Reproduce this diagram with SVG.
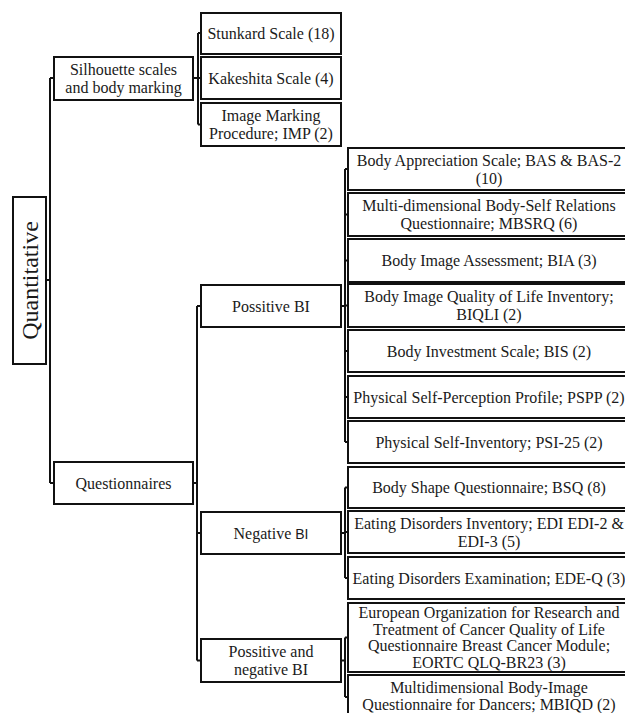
<svg xmlns="http://www.w3.org/2000/svg" width="625" height="713" viewBox="0 0 625 713">
<style>
.box{fill:#fff;stroke:#111;stroke-width:2}
.t{font-family:"Liberation Serif","Times New Roman",serif;font-size:16px;fill:#1a1a1a;text-anchor:middle}
.big{font-size:24px}
.c{fill:none;stroke:#111;stroke-width:2}
.sans{font-family:"Liberation Sans",Arial,sans-serif;font-size:14px}
</style>
<rect width="625" height="713" fill="#fff"/>
<g id="connectors">
<path class="c" d="M46,280H50M50,78V483M50,78H54M50,483H54"/>
<path class="c" d="M193,78H198M198,33V124.5M198,33H201M198,78H201M198,124.5H201"/>
<path class="c" d="M193,483H197M197,306V660.5M197,306H201M197,533H201M197,660.5H201"/>
<path class="c" d="M341,306H345M345,169V442M345,169H348M345,214.5H348M345,260.5H348M345,305.5H348M345,351H348M345,397H348M345,442H348"/>
<path class="c" d="M341,533H345M345,487.5V578M345,487.5H348M345,532H348M345,578H348"/>
<path class="c" d="M341,660.5H345M345,637.5V697M345,637.5H348M345,697H348"/>
</g>
<g id="quantitative">
<rect class="box" x="13" y="197" width="33" height="167"/>
<text class="t big" transform="translate(38,280.5) rotate(-90)">Quantitative</text>
</g>
<g id="silhouette">
<rect class="box" x="54" y="57" width="139" height="43"/>
<text class="t" x="123.5" y="75">Silhouette scales</text>
<text class="t" x="123.5" y="93">and body marking</text>
</g>
<g id="questionnaires">
<rect class="box" x="54" y="462" width="139" height="42"/>
<text class="t" x="123.5" y="488.5">Questionnaires</text>
</g>
<g id="stunkard">
<rect class="box" x="201" y="13" width="140" height="41"/>
<text class="t" x="271" y="39">Stunkard Scale (18)</text>
</g>
<g id="kakeshita">
<rect class="box" x="201" y="57" width="140" height="42"/>
<text class="t" x="271" y="83.5">Kakeshita Scale (4)</text>
</g>
<g id="imp">
<rect class="box" x="201" y="103" width="140" height="43"/>
<text class="t" x="271" y="121">Image Marking</text>
<text class="t" x="271" y="139">Procedure; IMP (2)</text>
</g>
<g id="positive">
<rect class="box" x="201" y="285" width="140" height="42"/>
<text class="t" x="271" y="311.5">Possitive BI</text>
</g>
<g id="negative">
<rect class="box" x="201" y="512" width="140" height="42"/>
<text class="t" x="271" y="538.5">Negative <tspan class="sans">BI</tspan></text>
</g>
<g id="posneg">
<rect class="box" x="201" y="639" width="140" height="43"/>
<text class="t" x="271" y="657">Possitive and</text>
<text class="t" x="271" y="675">negative BI</text>
</g>
<g id="bas">
<rect class="box" x="348" y="148" width="282" height="42"/>
<text class="t" x="489" y="165.5">Body Appreciation Scale; BAS &amp; BAS-2</text>
<text class="t" x="489" y="183.5">(10)</text>
</g>
<g id="mbsrq">
<rect class="box" x="348" y="193" width="282" height="43"/>
<text class="t" x="489" y="211">Multi-dimensional Body-Self Relations</text>
<text class="t" x="489" y="229">Questionnaire; MBSRQ (6)</text>
</g>
<g id="bia">
<rect class="box" x="348" y="239" width="282" height="43"/>
<text class="t" x="489" y="266">Body Image Assessment; BIA (3)</text>
</g>
<g id="biqli">
<rect class="box" x="348" y="284" width="282" height="43"/>
<text class="t" x="489" y="302">Body Image Quality of Life Inventory;</text>
<text class="t" x="489" y="320">BIQLI (2)</text>
</g>
<g id="bis">
<rect class="box" x="348" y="330" width="282" height="42"/>
<text class="t" x="489" y="356.5">Body Investment Scale; BIS (2)</text>
</g>
<g id="pspp">
<rect class="box" x="348" y="376" width="282" height="42"/>
<text class="t" x="489" y="402.5">Physical Self-Perception Profile; PSPP (2)</text>
</g>
<g id="psi">
<rect class="box" x="348" y="421" width="282" height="42"/>
<text class="t" x="489" y="447.5">Physical Self-Inventory; PSI-25 (2)</text>
</g>
<g id="bsq">
<rect class="box" x="348" y="467" width="282" height="41"/>
<text class="t" x="489" y="493">Body Shape Questionnaire; BSQ (8)</text>
</g>
<g id="edi">
<rect class="box" x="348" y="511" width="282" height="42"/>
<text class="t" x="489" y="528.5">Eating Disorders Inventory; EDI EDI-2 &amp;</text>
<text class="t" x="489" y="546.5">EDI-3 (5)</text>
</g>
<g id="ede">
<rect class="box" x="348" y="557" width="282" height="42"/>
<text class="t" x="489" y="583.5">Eating Disorders Examination; EDE-Q (3)</text>
</g>
<g id="eortc">
<rect class="box" x="348" y="603" width="282" height="69"/>
<text class="t" x="489" y="618">European Organization for Research and</text>
<text class="t" x="489" y="634.5">Treatment of Cancer Quality of Life</text>
<text class="t" x="489" y="651">Questionnaire Breast Cancer Module;</text>
<text class="t" x="489" y="667.5">EORTC QLQ-BR23 (3)</text>
</g>
<g id="mbiqd">
<rect class="box" x="348" y="675" width="282" height="46"/>
<text class="t" x="489" y="693">Multidimensional Body-Image</text>
<text class="t" x="489" y="710">Questionnaire for Dancers; MBIQD (2)</text>
</g>
</svg>
